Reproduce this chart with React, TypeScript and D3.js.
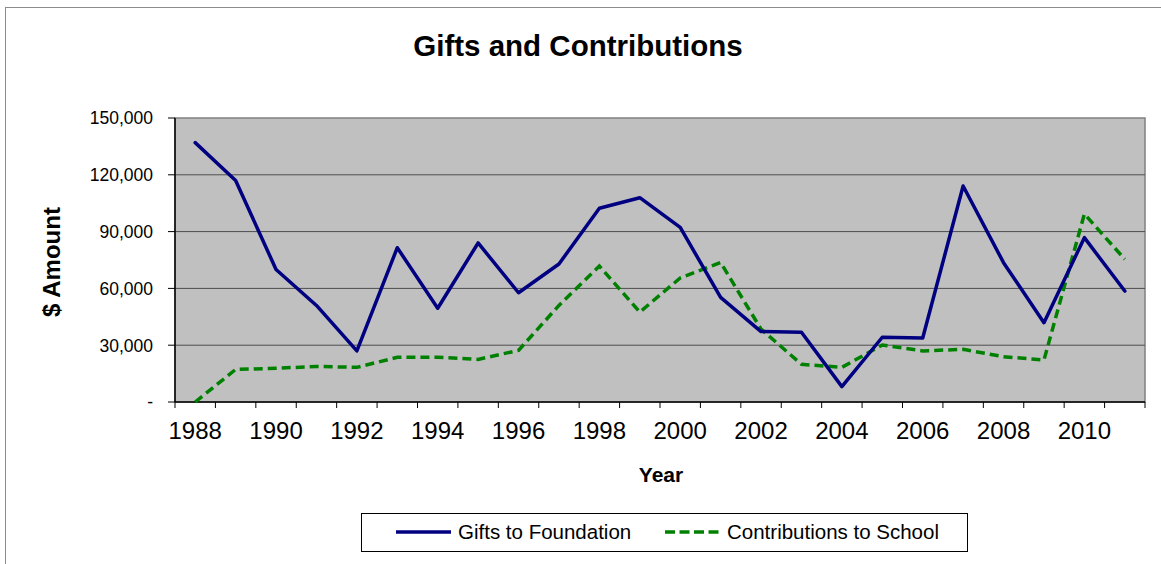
import React from 'react';
import * as d3 from 'd3';

const years = [1988, 1989, 1990, 1991, 1992, 1993, 1994, 1995, 1996, 1997, 1998, 1999,
  2000, 2001, 2002, 2003, 2004, 2005, 2006, 2007, 2008, 2009, 2010, 2011];
const gifts = [137000, 117000, 70000, 51000, 27000, 81500, 49500, 84000, 57700, 72900, 102300, 107900,
  92200, 55300, 37200, 36800, 8100, 34200, 33800, 114100, 73600, 41900, 86800, 58600];
const contributions = [0, 17200, 17800, 18800, 18300, 23600, 23600, 22500, 27300, 51000, 71800, 47500,
  65500, 73700, 38500, 19900, 18300, 30100, 27000, 27800, 23900, 22200, 99300, 75400];
const yTicks = [0, 30000, 60000, 90000, 120000, 150000];
const xLabelYears = [1988, 1990, 1992, 1994, 1996, 1998, 2000, 2002, 2004, 2006, 2008, 2010];

const W = 1161, H = 564;
const left = 175, right = 1145, top = 118, bottom = 402;
const font = 'Arial, "Liberation Sans", sans-serif';

export default function App() {
  const x = d3.scaleBand<number>().domain(years).range([left, right]);
  const y = d3.scaleLinear().domain([0, 150000]).range([bottom, top]);
  const cx = (yr: number) => (x(yr) as number) + x.bandwidth() / 2;
  const fmt = d3.format(',');

  const line = d3.line<number>()
    .x((_, i) => cx(years[i]))
    .y(d => y(d));

  const tickXs = years.map(yr => x(yr) as number).concat([right]);

  return (
    <svg width={W} height={H} style={{ position: 'fixed', left: 0, top: 0, background: '#fff' }}>
      <rect x={5.5} y={7.5} width={1170} height={600} fill="#fff" stroke="#8c8c8c" />

      <text x={578} y={56} textAnchor="middle" fontFamily={font} fontWeight="bold" fontSize={29.5}>
        Gifts and Contributions
      </text>

      {/* plot area */}
      <rect x={left} y={top} width={right - left} height={bottom - top} fill="#c0c0c0" stroke="#808080" strokeWidth={1.5} />
      {yTicks.filter(t => t > 0 && t < 150000).map(t => (
        <line key={t} x1={left} x2={right} y1={y(t)} y2={y(t)} stroke="#4d4d4d" strokeWidth={1} />
      ))}

      {/* y axis */}
      <line x1={left} x2={left} y1={top} y2={bottom} stroke="#000" strokeWidth={1.5} />
      {yTicks.map(t => (
        <g key={t}>
          <line x1={left - 7} x2={left} y1={y(t)} y2={y(t)} stroke="#000" />
          <text x={153} y={y(t)} dy="0.36em" textAnchor="end" fontFamily={font} fontSize={17.5}>
            {t === 0 ? '-' : fmt(t)}
          </text>
        </g>
      ))}

      {/* x axis */}
      <line x1={left} x2={right} y1={bottom} y2={bottom} stroke="#000" strokeWidth={1.5} />
      {tickXs.map((tx, i) => (
        <line key={i} x1={tx} x2={tx} y1={bottom} y2={bottom + 6} stroke="#000" />
      ))}
      {xLabelYears.map(yr => (
        <text key={yr} x={cx(yr)} y={439} textAnchor="middle" fontFamily={font} fontSize={24}>
          {yr}
        </text>
      ))}

      <text x={661} y={482} textAnchor="middle" fontFamily={font} fontWeight="bold" fontSize={21}>
        Year
      </text>
      <text transform="translate(60,262) rotate(-90)" textAnchor="middle" fontFamily={font} fontWeight="bold" fontSize={24}>
        $ Amount
      </text>

      {/* series */}
      <path d={line(contributions) || ''} fill="none" stroke="#008000" strokeWidth={3.5} strokeDasharray="9,5" />
      <path d={line(gifts) || ''} fill="none" stroke="#000080" strokeWidth={3.5} strokeLinejoin="round" strokeLinecap="round" />

      {/* legend */}
      <rect x={361.5} y={513.5} width={606} height={38} fill="#fff" stroke="#000" />
      <line x1={396} x2={451} y1={532} y2={532} stroke="#000080" strokeWidth={3.5} />
      <text x={458} y={532} dy="0.36em" fontFamily={font} fontSize={20.5}>Gifts to Foundation</text>
      <line x1={665} x2={722} y1={532} y2={532} stroke="#008000" strokeWidth={3.5} strokeDasharray="10,4.5" />
      <text x={727} y={532} dy="0.36em" fontFamily={font} fontSize={20.5}>Contributions to School</text>
    </svg>
  );
}
